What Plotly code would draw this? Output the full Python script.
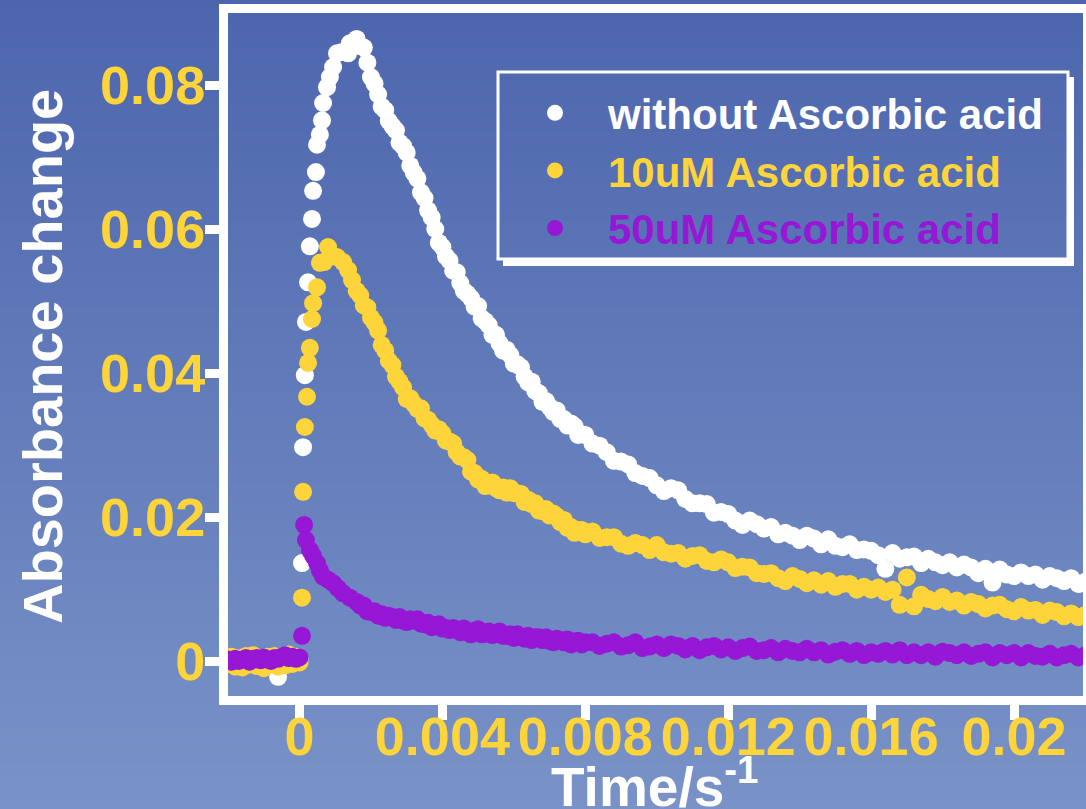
import base64, struct, zlib
import plotly.graph_objects as go

# ---------------- data ----------------
t_base = [-0.0020, -0.0019, -0.0018, -0.0017, -0.0016, -0.0015, -0.0014, -0.0013, -0.0012, -0.0011,
          -0.0010, -0.0009, -0.0008, -0.0007, -0.0006, -0.0005, -0.0004, -0.0003, -0.0002, -0.0001, 0.0000]

white_base = [0.0002, -0.0003, 0.0004, 0.0000, -0.0005, 0.0003, 0.0001, -0.0004, 0.0005, -0.0002, 0.0002,
              -0.0006, 0.0003, -0.0004, -0.0022, 0.0004, -0.0003, 0.0002, 0.0005, -0.0001, 0.0003]
yellow_base = [-0.0004, 0.0006, -0.0008, 0.0003, -0.0009, 0.0007, -0.0005, 0.0008, -0.0007, 0.0004, -0.0010,
               0.0006, -0.0003, 0.0007, -0.0008, 0.0005, -0.0006, 0.0009, -0.0004, 0.0006, -0.0002]
purple_base = [0.0002, -0.0001, 0.0003, 0.0000, 0.0002, 0.0004, -0.0001, 0.0003, 0.0004, 0.0001, 0.0005,
               0.0002, 0.0000, 0.0004, 0.0003, 0.0006, 0.0008, 0.0004, 0.0006, 0.0003, 0.0005]

white_rise_t = [0.00007, 0.00010, 0.00015, 0.00018, 0.00024, 0.00029, 0.00035, 0.00038, 0.00046, 0.00049,
                0.00057, 0.00063, 0.00066, 0.00077, 0.00085, 0.00094, 0.00105, 0.00119, 0.00136, 0.00141]
white_rise = [0.0136, 0.0297, 0.0397, 0.0471, 0.0526, 0.0576, 0.0614, 0.0653, 0.0679, 0.0717,
              0.0731, 0.0751, 0.0775, 0.0797, 0.0811, 0.0825, 0.0844, 0.0846, 0.0844, 0.0858]

yellow_rise_t = [0.00007, 0.00010, 0.00015, 0.00021, 0.00024, 0.00029, 0.00035, 0.00038, 0.00049,
                 0.00057, 0.00069, 0.00080, 0.00091, 0.00105, 0.00122, 0.00136, 0.00147]
yellow_rise = [0.0088, 0.0235, 0.0325, 0.0367, 0.0414, 0.0435, 0.0475, 0.0497, 0.0519,
               0.0553, 0.0554, 0.0575, 0.0563, 0.0561, 0.0554, 0.0543, 0.0529]

purple_rise_t = [0.00007, 0.00013, 0.00018, 0.00029, 0.00038, 0.00049, 0.00057, 0.00066, 0.00080,
                 0.00094, 0.00108, 0.00122, 0.00141]
purple_rise = [0.0035, 0.0189, 0.0168, 0.0154, 0.0146, 0.0136, 0.0126, 0.0117, 0.0113,
               0.0108, 0.0101, 0.0094, 0.0088]

# fast part of the decay (sampled every 0.1 ms)
t_decay_a = [0.0016, 0.0017, 0.0018, 0.0019, 0.0020, 0.0021, 0.0022, 0.0023, 0.0024, 0.0025,
             0.0026, 0.0027, 0.0028, 0.0029, 0.0030, 0.0031, 0.0032, 0.0033, 0.0034, 0.0035,
             0.0036, 0.0037, 0.0038, 0.0039, 0.0040, 0.0041, 0.0042, 0.0043, 0.0044, 0.0045,
             0.0046, 0.0047, 0.0048, 0.0049, 0.0050, 0.0051, 0.0052, 0.0053, 0.0054, 0.0055,
             0.0056, 0.0057, 0.0058, 0.0059, 0.0060, 0.0061, 0.0062, 0.0063, 0.0064, 0.0065,
             0.0066, 0.0067, 0.0068, 0.0069, 0.0070, 0.0071, 0.0072, 0.0073, 0.0074, 0.0075,
             0.0076, 0.0077, 0.0078, 0.0079, 0.0080]
white_decay_a = [0.0864, 0.0854, 0.0852, 0.0831, 0.0811, 0.0802, 0.0787, 0.0770, 0.0765, 0.0750,
                 0.0743, 0.0737, 0.0720, 0.0715, 0.0706, 0.0688, 0.0678, 0.0670, 0.0651, 0.0643,
                 0.0626, 0.0616, 0.0600, 0.0581, 0.0575, 0.0562, 0.0556, 0.0542, 0.0540, 0.0525,
                 0.0514, 0.0510, 0.0504, 0.0492, 0.0493, 0.0476, 0.0472, 0.0466, 0.0453, 0.0453,
                 0.0441, 0.0431, 0.0432, 0.0425, 0.0413, 0.0412, 0.0408, 0.0395, 0.0387, 0.0388,
                 0.0375, 0.0372, 0.0360, 0.0361, 0.0353, 0.0346, 0.0348, 0.0336, 0.0336, 0.0327,
                 0.0330, 0.0326, 0.0314, 0.0315, 0.0314]
yellow_decay_a = [0.0514, 0.0508, 0.0494, 0.0491, 0.0477, 0.0470, 0.0459, 0.0439, 0.0431, 0.0417,
                  0.0411, 0.0395, 0.0388, 0.0380, 0.0364, 0.0365, 0.0357, 0.0350, 0.0351, 0.0337,
                  0.0335, 0.0328, 0.0320, 0.0322, 0.0316, 0.0306, 0.0305, 0.0302, 0.0290, 0.0284,
                  0.0283, 0.0279, 0.0263, 0.0261, 0.0252, 0.0253, 0.0243, 0.0247, 0.0248, 0.0240,
                  0.0237, 0.0241, 0.0234, 0.0240, 0.0233, 0.0233, 0.0232, 0.0221, 0.0224, 0.0218,
                  0.0219, 0.0209, 0.0208, 0.0211, 0.0202, 0.0205, 0.0201, 0.0193, 0.0196, 0.0185,
                  0.0186, 0.0178, 0.0182, 0.0182, 0.0176]
purple_decay_a = [0.0082, 0.0077, 0.0077, 0.0069, 0.0068, 0.0069, 0.0063, 0.0065, 0.0060, 0.0063,
                  0.0061, 0.0057, 0.0061, 0.0056, 0.0054, 0.0058, 0.0056, 0.0058, 0.0052, 0.0051,
                  0.0053, 0.0047, 0.0050, 0.0051, 0.0045, 0.0046, 0.0043, 0.0046, 0.0044, 0.0040,
                  0.0045, 0.0040, 0.0037, 0.0042, 0.0044, 0.0037, 0.0038, 0.0041, 0.0036, 0.0039,
                  0.0041, 0.0035, 0.0035, 0.0037, 0.0032, 0.0037, 0.0033, 0.0031, 0.0035, 0.0029,
                  0.0033, 0.0033, 0.0029, 0.0033, 0.0028, 0.0026, 0.0031, 0.0029, 0.0026, 0.0030,
                  0.0023, 0.0027, 0.0028, 0.0023, 0.0026]

# slow part of the decay (sampled every 0.2 ms)
t_decay_b = [0.0082, 0.0084, 0.0086, 0.0088, 0.0090, 0.0092, 0.0094, 0.0096, 0.0098, 0.0100,
             0.0102, 0.0104, 0.0106, 0.0108, 0.0110, 0.0112, 0.0114, 0.0116, 0.0118, 0.0120,
             0.0122, 0.0124, 0.0126, 0.0128, 0.0130, 0.0132, 0.0134, 0.0136, 0.0138, 0.0140,
             0.0142, 0.0144, 0.0146, 0.0148, 0.0150, 0.0152, 0.0154, 0.0156, 0.0158, 0.0160,
             0.0162, 0.0164, 0.0166, 0.0168, 0.0170, 0.0172, 0.0174, 0.0176, 0.0178, 0.0180,
             0.0182, 0.0184, 0.0186, 0.0188, 0.0190, 0.0192, 0.0194, 0.0196, 0.0198, 0.0200,
             0.0202, 0.0204, 0.0206, 0.0208, 0.0210, 0.0212, 0.0214, 0.0216, 0.0218, 0.0220]
white_decay_b = [0.0302, 0.0299, 0.0290, 0.0278, 0.0277, 0.0273, 0.0261, 0.0257, 0.0254, 0.0244,
                 0.0236, 0.0240, 0.0237, 0.0225, 0.0219, 0.0219, 0.0218, 0.0206, 0.0207, 0.0204,
                 0.0195, 0.0189, 0.0195, 0.0190, 0.0184, 0.0186, 0.0176, 0.0178, 0.0174, 0.0168,
                 0.0174, 0.0170, 0.0162, 0.0169, 0.0160, 0.0158, 0.0162, 0.0154, 0.0155, 0.0153,
                 0.0147, 0.0128, 0.0150, 0.0142, 0.0144, 0.0145, 0.0136, 0.0142, 0.0137, 0.0133,
                 0.0137, 0.0130, 0.0134, 0.0130, 0.0122, 0.0128, 0.0109, 0.0127, 0.0120, 0.0118,
                 0.0123, 0.0118, 0.0120, 0.0113, 0.0118, 0.0115, 0.0111, 0.0115, 0.0107, 0.0110]
yellow_decay_b = [0.0180, 0.0171, 0.0172, 0.0172, 0.0163, 0.0160, 0.0164, 0.0161, 0.0154, 0.0161,
                  0.0151, 0.0149, 0.0150, 0.0142, 0.0146, 0.0147, 0.0139, 0.0137, 0.0141, 0.0137,
                  0.0129, 0.0131, 0.0130, 0.0122, 0.0121, 0.0122, 0.0115, 0.0111, 0.0118, 0.0114,
                  0.0108, 0.0112, 0.0106, 0.0111, 0.0103, 0.0107, 0.0107, 0.0099, 0.0103, 0.0099,
                  0.0102, 0.0096, 0.0099, 0.0078, 0.0116, 0.0076, 0.0092, 0.0086, 0.0083, 0.0089,
                  0.0082, 0.0084, 0.0077, 0.0082, 0.0079, 0.0073, 0.0077, 0.0078, 0.0072, 0.0069,
                  0.0075, 0.0070, 0.0071, 0.0064, 0.0070, 0.0068, 0.0062, 0.0066, 0.0061, 0.0064]
purple_decay_b = [0.0026, 0.0021, 0.0024, 0.0026, 0.0020, 0.0022, 0.0026, 0.0018, 0.0020, 0.0023,
                  0.0018, 0.0023, 0.0021, 0.0016, 0.0021, 0.0015, 0.0019, 0.0021, 0.0016, 0.0019,
                  0.0014, 0.0018, 0.0020, 0.0014, 0.0015, 0.0018, 0.0012, 0.0017, 0.0014, 0.0012,
                  0.0017, 0.0012, 0.0015, 0.0009, 0.0013, 0.0015, 0.0010, 0.0014, 0.0008, 0.0012,
                  0.0010, 0.0014, 0.0009, 0.0015, 0.0008, 0.0012, 0.0008, 0.0012, 0.0006, 0.0013,
                  0.0011, 0.0008, 0.0012, 0.0007, 0.0010, 0.0012, 0.0005, 0.0011, 0.0008, 0.0011,
                  0.0005, 0.0011, 0.0007, 0.0006, 0.0010, 0.0005, 0.0008, 0.0010, 0.0005, 0.0008]

series_names = ["without Ascorbic acid", "10uM Ascorbic acid", "50uM Ascorbic acid"]
x_tickvals = [0, 0.004, 0.008, 0.012, 0.016, 0.02]
x_ticktext = ["0", "0.004", "0.008", "0.012", "0.016", "0.02"]
y_tickvals = [0, 0.02, 0.04, 0.06, 0.08]
y_ticktext = ["0", "0.02", "0.04", "0.06", "0.08"]

# ---------------- styling ----------------
W, H = 1086, 809
ML, MR, MT, MB = 228, 3, 13, 113
PW, PH = W - ML - MR, H - MT - MB
WHITE = "#FFFFFF"
YELLOW = "#FDD43A"
PURPLE = "#9617D5"
FONT = "Liberation Sans, Arial, sans-serif"
TOP_RGB = (76, 101, 173)
BOT_RGB = (121, 147, 200)


def px_to_paper_x(px):
    return (px - ML) / PW


def px_to_paper_y(py):
    return (H - MB - py) / PH


def gradient_png(h, top, bot):
    rows = []
    for i in range(h):
        f = i / (h - 1)
        c = bytes(int(round(top[k] + (bot[k] - top[k]) * f)) for k in range(3))
        rows.append(b"\x00" + c * 2)
    raw = b"".join(rows)

    def chunk(tag, data):
        return (struct.pack(">I", len(data)) + tag + data
                + struct.pack(">I", zlib.crc32(tag + data) & 0xFFFFFFFF))

    png = (b"\x89PNG\r\n\x1a\n"
           + chunk(b"IHDR", struct.pack(">IIBBBBB", 2, h, 8, 2, 0, 0, 0))
           + chunk(b"IDAT", zlib.compress(raw, 9))
           + chunk(b"IEND", b""))
    return "data:image/png;base64," + base64.b64encode(png).decode()


fig = go.Figure()
for name, color, parts in [
    (series_names[0], WHITE, [(t_base, white_base), (white_rise_t, white_rise),
                              (t_decay_a, white_decay_a), (t_decay_b, white_decay_b)]),
    (series_names[1], YELLOW, [(t_base, yellow_base), (yellow_rise_t, yellow_rise),
                               (t_decay_a, yellow_decay_a), (t_decay_b, yellow_decay_b)]),
    (series_names[2], PURPLE, [(t_base, purple_base), (purple_rise_t, purple_rise),
                               (t_decay_a, purple_decay_a), (t_decay_b, purple_decay_b)]),
]:
    xs, ys = [], []
    for tx, vy in parts:
        xs += list(tx)
        ys += list(vy)
    fig.add_trace(go.Scatter(
        x=xs, y=ys, mode="markers",
        name=f'<span style="color:{color}">{name}</span>',
        marker=dict(color=color, size=18, line=dict(width=0)),
    ))

tickfont = dict(family=FONT, size=54, color=YELLOW, weight="bold")
fig.update_xaxes(
    range=[(ML - 299.5) / 35725, (W - MR - 299.5) / 35725],
    tickvals=x_tickvals, ticktext=x_ticktext, tickangle=0,
    showline=True, linewidth=9, linecolor=WHITE, mirror=True,
    ticks="outside", ticklen=15, tickwidth=9, tickcolor=WHITE,
    tickfont=tickfont, ticklabelstandoff=-30,
    showgrid=False, zeroline=False, automargin=False,
)
fig.update_yaxes(
    range=[(661 - (H - MB)) / 7200, (661 - MT) / 7200],
    tickvals=y_tickvals, ticktext=y_ticktext,
    showline=True, linewidth=9, linecolor=WHITE, mirror=True,
    ticks="outside", ticklen=14, tickwidth=9, tickcolor=WHITE,
    tickfont=tickfont, ticklabelstandoff=-11,
    showgrid=False, zeroline=False, automargin=False,
)

shapes = [
    # legend frame
    dict(type="rect", xref="paper", yref="paper",
         x0=px_to_paper_x(498), x1=px_to_paper_x(1068), y0=px_to_paper_y(259), y1=px_to_paper_y(72),
         line=dict(color=WHITE, width=3), fillcolor="rgba(0,0,0,0)", layer="above"),
    # legend shadow (bottom and right)
    dict(type="rect", xref="paper", yref="paper",
         x0=px_to_paper_x(503), x1=px_to_paper_x(1074), y0=px_to_paper_y(266), y1=px_to_paper_y(260),
         line=dict(width=0), fillcolor=WHITE, layer="above"),
    dict(type="rect", xref="paper", yref="paper",
         x0=px_to_paper_x(1069), x1=px_to_paper_x(1074), y0=px_to_paper_y(266), y1=px_to_paper_y(77),
         line=dict(width=0), fillcolor=WHITE, layer="above"),
]

annotations = [
    dict(text="Absorbance change", xref="paper", yref="paper",
         x=px_to_paper_x(42), y=px_to_paper_y(357), textangle=-90,
         xanchor="center", yanchor="middle", showarrow=False,
         font=dict(family=FONT, size=56, color=WHITE, weight="bold")),
    dict(text="Time/s<sup>-1</sup>", xref="paper", yref="paper",
         x=px_to_paper_x(654), y=px_to_paper_y(783),
         xanchor="center", yanchor="middle", showarrow=False,
         font=dict(family=FONT, size=55, color=WHITE, weight="bold")),
]

fig.update_layout(
    width=W, height=H,
    margin=dict(l=ML, r=MR, t=MT, b=MB, pad=0, autoexpand=False),
    paper_bgcolor="rgb(98,124,187)",
    plot_bgcolor="rgba(0,0,0,0)",
    showlegend=True,
    legend=dict(
        x=px_to_paper_x(502), y=px_to_paper_y(79), xanchor="left", yanchor="top",
        bgcolor="rgba(0,0,0,0)", borderwidth=0,
        font=dict(family=FONT, size=42, color=WHITE, weight="bold"),
        itemwidth=96, tracegroupgap=0,
    ),
    images=[dict(source=gradient_png(H, TOP_RGB, BOT_RGB), xref="paper", yref="paper",
                 x=px_to_paper_x(0), y=px_to_paper_y(0), sizex=W / PW, sizey=H / PH,
                 sizing="stretch", xanchor="left", yanchor="top", layer="below")],
    shapes=shapes,
    annotations=annotations,
)

fig.write_html("out.html", config={"displayModeBar": False},
               post_script="document.body.style.margin='0px';")
